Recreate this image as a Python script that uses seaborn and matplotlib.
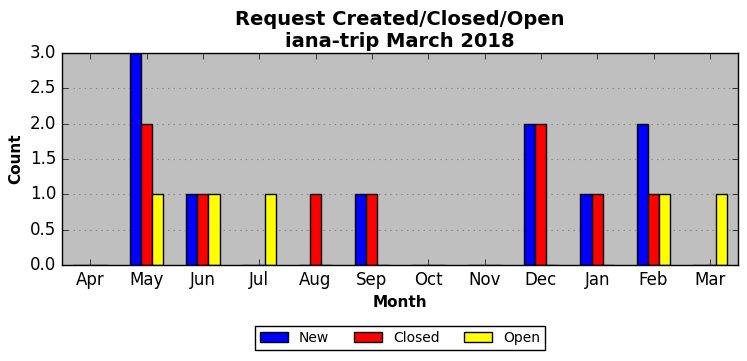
import pandas as pd
import seaborn as sns
import matplotlib.pyplot as plt

months = ["Apr", "May", "Jun", "Jul", "Aug", "Sep", "Oct", "Nov", "Dec", "Jan", "Feb", "Mar"]
new_counts = [0, 3, 1, 0, 0, 1, 0, 0, 2, 1, 2, 0]
closed_counts = [0, 2, 1, 0, 1, 1, 0, 0, 2, 1, 1, 0]
open_counts = [0, 1, 1, 1, 0, 0, 0, 0, 0, 0, 1, 1]

plt.style.use("classic")
plt.rcParams["font.family"] = ["DejaVu Sans"]

df = pd.DataFrame({
    "Month": months * 3,
    "Count": new_counts + closed_counts + open_counts,
    "Type": ["New"] * 12 + ["Closed"] * 12 + ["Open"] * 12,
})

fig, ax = plt.subplots(figsize=(7.47, 3.61), dpi=100)
ax.set_facecolor("#bfbfbf")
sns.barplot(data=df, x="Month", y="Count", hue="Type", order=months,
            hue_order=["New", "Closed", "Open"],
            palette={"New": "blue", "Closed": "red", "Open": "yellow"},
            width=0.6, edgecolor="black", linewidth=1, saturation=1,
            errorbar=None, ax=ax)

ax.set_xlim(-0.5, 11.5)
ax.set_ylim(0, 3.0)
ax.set_yticks([0, 0.5, 1.0, 1.5, 2.0, 2.5, 3.0])
ax.yaxis.grid(True, linestyle=":", color="#888888", linewidth=0.8)
ax.set_axisbelow(True)
ax.tick_params(labelsize=12)
ax.set_xlabel("Month", fontsize=11, fontweight="bold")
ax.set_ylabel("Count", fontsize=11, fontweight="bold")
ax.set_title("Request Created/Closed/Open\niana-trip March 2018", fontsize=14,
             fontweight="bold", y=0.995)

ax.legend(loc="upper center", bbox_to_anchor=(0.5, -0.255), ncol=3, fontsize=10,
          frameon=True, fancybox=False, columnspacing=1.8, borderpad=0.35)

fig.subplots_adjust(left=0.083, right=0.988, top=0.853, bottom=0.266)
fig.savefig("out.png", dpi=100)
